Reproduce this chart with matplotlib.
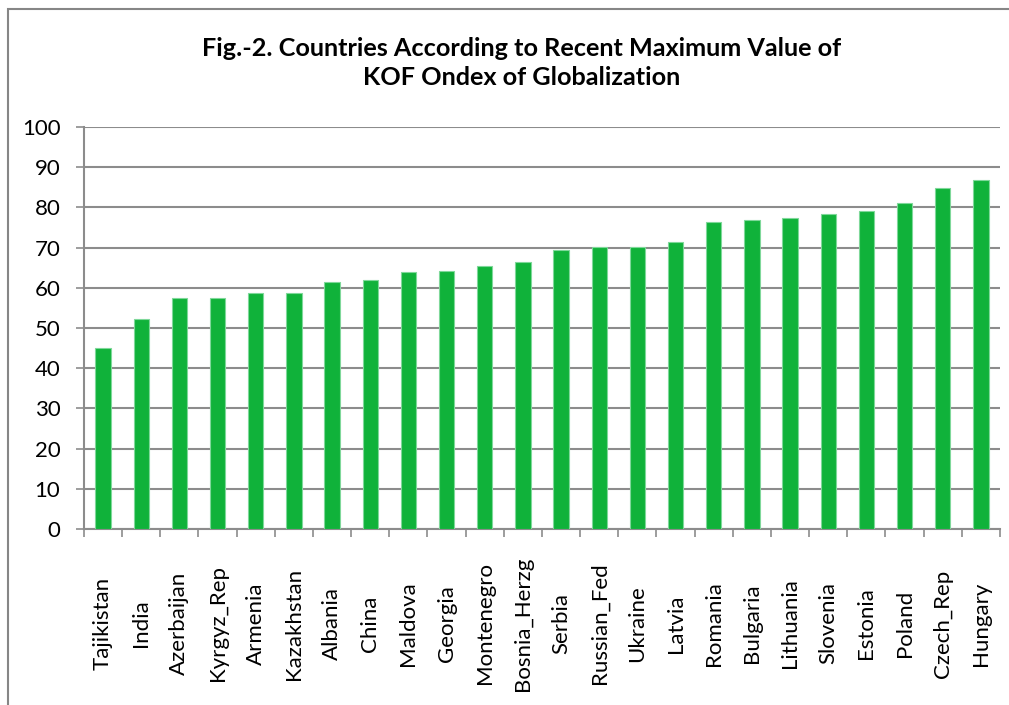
import numpy as np
import matplotlib
matplotlib.use('Agg')
import matplotlib.pyplot as plt
from matplotlib.patches import Rectangle

# KOF index values
countries = ['Tajikistan', 'India', 'Azerbaijan', 'Kyrgyz_Rep', 'Armenia',
             'Kazakhstan', 'Albania', 'China', 'Maldova', 'Georgia',
             'Montenegro', 'Bosnia_Herzg', 'Serbia', 'Russian_Fed', 'Ukraine',
             'Latvia', 'Romania', 'Bulgaria', 'Lithuania', 'Slovenia',
             'Estonia', 'Poland', 'Czech_Rep', 'Hungary']
kof = [45.1, 52.3, 57.4, 57.4, 58.8, 58.7, 61.5, 62.0, 64.0, 64.2,
       65.4, 66.5, 69.4, 70.1, 70.2, 71.5, 76.4, 76.9, 77.4, 78.4,
       79.2, 81.2, 84.9, 86.9]
yticks = list(range(0, 101, 10))

title = ('Fig.-2. Countries According to Recent Maximum Value of\n'
         'KOF Ondex of Globalization')

W, H = 1009, 705
fig = plt.figure(figsize=(W / 100, H / 100), dpi=100)
ax = fig.add_axes([84 / W, 1 - 529 / H, (1000 - 84) / W, (529 - 127) / H])

# chart frame (left and top edges visible)
fig.patches.append(Rectangle((8 / W, -0.1), 1.2, 1 - 9 / H + 0.1,
                             transform=fig.transFigure, fill=False,
                             edgecolor='#868686', lw=1.5))

x = np.arange(len(countries))
ax.bar(x, kof, width=0.4, color='#10B23A', edgecolor='#7fd89a',
       linewidth=0.8, zorder=3)

ax.set_xlim(-0.5, len(countries) - 0.5)
ax.set_ylim(0, 100)
ax.set_yticks(yticks)
ax.grid(axis='y', color='#8c8c8c', lw=1.5, zorder=0)
ax.tick_params(axis='y', length=6, width=1.2, color='#8c8c8c', pad=11,
               labelsize=16)
for lab in ax.get_yticklabels():
    lab.set_fontfamily('Lato')

ax.set_xticks(x)
ax.set_xticklabels([])
ax.tick_params(axis='x', which='major', length=0)
ax.set_xticks(np.arange(-0.5, len(countries)), minor=True)
ax.tick_params(axis='x', which='minor', length=6, width=1.2,
               color='#8c8c8c')

for i, c in enumerate(countries):
    ax.text(i, -0.235, c, rotation=90, ha='center', va='center',
            fontsize=16, family='Lato',
            transform=ax.get_xaxis_transform())

for s in ['top', 'right']:
    ax.spines[s].set_visible(False)
ax.spines['left'].set_color('#8c8c8c')
ax.spines['left'].set_linewidth(1.5)
ax.spines['bottom'].set_color('#8c8c8c')
ax.spines['bottom'].set_linewidth(1.5)

fig.text(0.517, 1 - 63 / H, title, ha='center', va='center',
         fontsize=18.2, fontweight='bold', family='Lato',
         linespacing=1.35)

fig.savefig('out.png', dpi=100)
